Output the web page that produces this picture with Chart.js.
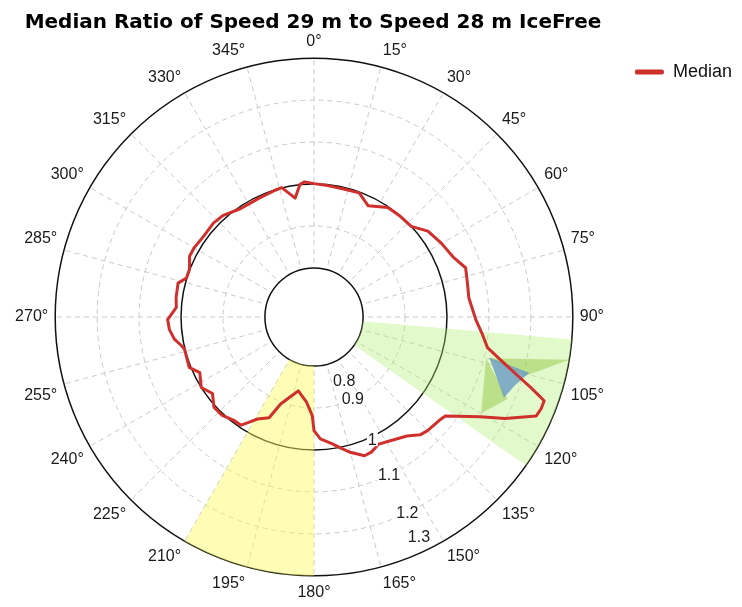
<!DOCTYPE html>
<html>
<head>
<meta charset="utf-8">
<script src="https://cdn.jsdelivr.net/npm/chart.js@4.4.1/dist/chart.umd.min.js"></script>
<style>
  html, body { margin: 0; padding: 0; background: #ffffff; overflow: hidden; }
  #wrap { position: absolute; left: -9px; top: 0; width: 751px; height: 607px; }
</style>
</head>
<body>
<div id="wrap"><canvas id="chart"></canvas></div>
<script>
// Direction bins: half-degree steps, clockwise from north
const STEP = 0.5;
const directionLabels = [];
for (let a = 0; a < 360; a += STEP) directionLabels.push(a + '°');

// Radial axis (speed ratio)
const radialTicks = [0.8, 0.9, 1.0, 1.1, 1.2, 1.3];
const axisMin = 0.683;

// Median ratio of speed at 29 m to speed at 28 m, by wind direction
const medianAngles = [0, 6, 13, 20, 26, 34, 40, 47, 53, 60, 67, 72, 77, 83, 91, 96, 100, 103, 106, 108,
  110, 112, 114, 118, 121, 127, 129, 135, 138, 142, 148, 153, 157, 160, 165, 168, 172, 177, 180, 181,
  185, 192, 196, 201, 204, 209, 212, 214, 218, 223, 228, 233, 238, 244, 248, 256, 258, 261, 265, 269,
  274, 278, 284, 287, 291, 296, 300, 306, 313, 318, 326, 335, 343, 346, 351, 354, 356, 359];
const medianRatios = [1.001, 0.998, 0.996, 0.998, 0.978, 0.998, 0.999, 1.000, 1.023, 1.034, 1.045, 1.063, 1.058, 1.055, 1.069, 1.087, 1.103, 1.140, 1.187, 1.226,
  1.267, 1.267, 1.263, 1.199, 1.145, 1.075, 1.071, 1.066, 1.061, 1.043, 1.030, 1.023, 1.033, 1.035, 1.017, 1.004, 0.988, 0.974, 0.954, 0.918,
  0.887, 0.863, 0.879, 0.905, 0.946, 0.961, 0.980, 0.994, 0.995, 1.004, 1.004, 0.986, 1.000, 0.986, 1.004, 1.001, 1.007, 1.020, 1.029, 1.032,
  1.012, 1.015, 1.017, 1.001, 1.001, 1.013, 1.013, 1.009, 1.011, 1.008, 0.995, 0.995, 0.999, 1.001, 0.970, 1.001, 1.006, 1.002];

// Spread bands in the 100°-120° sector
const bandUpperAngles = [99.5, 103.5, 105.5];
const bandUpperRatios = [1.30, 1.105, 1.207];
const bandLowerAngles = [103.5, 113, 120];
const bandLowerRatios = [1.105, 1.184, 1.143];
const quartileAngles = [103, 104.5, 109, 113];
const quartileRatios = [1.112, 1.213, 1.188, 1.175];

// Highlighted direction sectors [from, to] in degrees
const greenSector = [95, 125];
const yellowSector = [180, 210];

const MEDIAN_COLOR = '#d0302c';
const GRID_GRAY = '#c9c9c9';
const LABEL_FONT = 'Liberation Sans, Arial, sans-serif';

const N = directionLabels.length;
function seriesFrom(angles, values) {
  const out = new Array(N).fill(null);
  angles.forEach((a, i) => { out[Math.round(a / STEP) % N] = values[i]; });
  return out;
}
function sectorFrom(range, value) {
  const out = new Array(N).fill(null);
  for (let k = Math.round(range[0] / STEP); k <= Math.round(range[1] / STEP); k++) out[k % N] = value;
  return out;
}
const innerValue = radialTicks[0];
const outerValue = radialTicks[radialTicks.length - 1];
const isSolidRing = v => v === 1.0 || v === outerValue;

// White centre disc with black rim at the lowest ratio
const holePlugin = {
  id: 'hole',
  beforeDatasetsDraw(chart) {
    const s = chart.scales.r, ctx = chart.ctx;
    const r = s.getDistanceFromCenterForValue(innerValue);
    ctx.save();
    ctx.beginPath();
    ctx.arc(s.xCenter, s.yCenter, r, 0, Math.PI * 2);
    ctx.fillStyle = '#ffffff';
    ctx.fill();
    ctx.lineWidth = 1.5;
    ctx.strokeStyle = '#111111';
    ctx.stroke();
    ctx.restore();
  }
};

// Ratio labels laid out along the 154.5° direction
const tickLabelNudge = [21, -1, 2.5, -0.5, 0, -15];
const tickLabelPlugin = {
  id: 'ratioLabels',
  afterDatasetsDraw(chart) {
    const s = chart.scales.r, ctx = chart.ctx;
    ctx.save();
    ctx.font = '16px ' + LABEL_FONT;
    ctx.textAlign = 'center';
    ctx.textBaseline = 'middle';
    radialTicks.forEach((v, i) => {
      const p = s.getPointPosition(154.5 / STEP, s.getDistanceFromCenterForValue(v) + tickLabelNudge[i]);
      const txt = String(v);
      const w = ctx.measureText(txt).width;
      ctx.fillStyle = '#ffffff';
      ctx.fillRect(p.x - w / 2 - 1, p.y - 7, w + 2, 14);
      ctx.fillStyle = '#222222';
      ctx.fillText(txt, p.x, p.y + 1);
    });
    ctx.restore();
  }
};

const noPoints = { pointRadius: 0, pointHoverRadius: 0, pointHitRadius: 0 };

new Chart(document.getElementById('chart'), {
  type: 'radar',
  data: {
    labels: directionLabels,
    datasets: [
      Object.assign({
        label: 'Median',
        data: seriesFrom(medianAngles, medianRatios),
        borderColor: MEDIAN_COLOR,
        backgroundColor: MEDIAN_COLOR,
        borderWidth: 3,
        borderJoinStyle: 'round',
        fill: false,
        spanGaps: true,
        tension: 0
      }, noPoints),
      Object.assign({
        label: 'Quartiles',
        data: seriesFrom(quartileAngles, quartileRatios),
        backgroundColor: 'rgba(105, 155, 195, 0.8)',
        borderWidth: 0,
        fill: 'shape',
        spanGaps: true
      }, noPoints),
      Object.assign({
        label: 'Spread upper',
        data: seriesFrom(bandUpperAngles, bandUpperRatios),
        backgroundColor: 'rgba(150, 200, 70, 0.5)',
        borderWidth: 0,
        fill: 'shape',
        spanGaps: true
      }, noPoints),
      Object.assign({
        label: 'Spread lower',
        data: seriesFrom(bandLowerAngles, bandLowerRatios),
        backgroundColor: 'rgba(150, 200, 70, 0.5)',
        borderWidth: 0,
        fill: 'shape',
        spanGaps: true
      }, noPoints),
      Object.assign({
        label: 'Sector 95-125',
        data: sectorFrom(greenSector, outerValue),
        backgroundColor: 'rgba(180, 238, 120, 0.38)',
        borderWidth: 0,
        fill: { value: innerValue },
        spanGaps: false
      }, noPoints),
      Object.assign({
        label: 'Sector 180-210',
        data: sectorFrom(yellowSector, outerValue),
        backgroundColor: 'rgba(252, 250, 90, 0.45)',
        borderWidth: 0,
        fill: { value: innerValue },
        spanGaps: false
      }, noPoints)
    ]
  },
  options: {
    responsive: true,
    maintainAspectRatio: false,
    animation: false,
    events: [],
    layout: { padding: { left: 0, right: 0, top: 0, bottom: 4 } },
    scales: {
      r: {
        min: axisMin,
        max: outerValue,
        startAngle: 0,
        afterBuildTicks(scale) {
          scale.ticks = radialTicks.map(v => ({ value: v }));
        },
        ticks: { display: false },
        grid: {
          circular: true,
          color: c => (c.tick && isSolidRing(c.tick.value)) ? '#111111' : GRID_GRAY,
          lineWidth: c => (c.tick && isSolidRing(c.tick.value)) ? 1.5 : 1
        },
        border: {
          dash: c => (c.tick && isSolidRing(c.tick.value)) ? [] : [5, 4]
        },
        angleLines: {
          display: true,
          color: GRID_GRAY,
          lineWidth: c => (c.index % (15 / STEP) === 0) ? 1 : 0,
          borderDash: [5, 4]
        },
        pointLabels: {
          display: true,
          padding: 7,
          color: '#1a1a1a',
          font: { family: LABEL_FONT, size: 16 },
          callback: (label, index) => (index % (15 / STEP) === 0 ? label : '')
        }
      }
    },
    plugins: {
      title: {
        display: true,
        fullSize: false,
        text: 'Median Ratio of Speed 29 m to Speed 28 m IceFree',
        color: '#000000',
        font: { family: 'DejaVu Sans, sans-serif', size: 20, weight: 'bold', lineHeight: 1.0 },
        padding: { top: 13, bottom: 0 }
      },
      legend: {
        display: true,
        position: 'right',
        align: 'start',
        title: { display: true, text: '', font: { size: 12 }, padding: { top: 48.6 } },
        labels: {
          boxWidth: 29,
          boxHeight: 5,
          padding: 0,
          color: '#111111',
          font: { family: LABEL_FONT, size: 18 },
          generateLabels: () => [{
            text: 'Median', fillStyle: MEDIAN_COLOR, strokeStyle: MEDIAN_COLOR, fontColor: '#111111',
            lineWidth: 0, borderRadius: 2, hidden: false, datasetIndex: 0
          }]
        }
      },
      tooltip: { enabled: false }
    }
  },
  plugins: [holePlugin, tickLabelPlugin]
});
</script>
</body>
</html>
